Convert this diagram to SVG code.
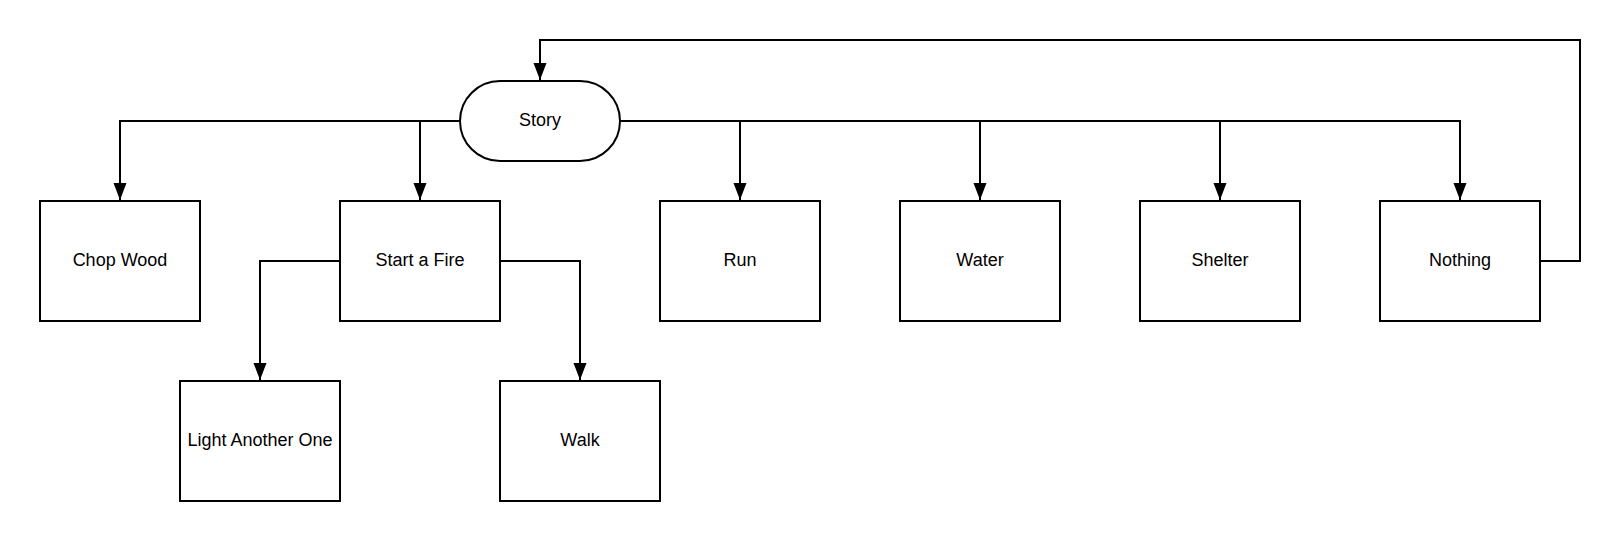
<svg xmlns="http://www.w3.org/2000/svg" width="1620" height="541" viewBox="0 0 1620 541">
<style>
.box{fill:#fff;stroke:#000;stroke-width:2}
.lbl{font-family:"Liberation Sans",Arial,sans-serif;font-size:18px;fill:#000;text-anchor:middle}
.con{fill:none;stroke:#000;stroke-width:2}
</style>
<defs>
<marker id="arrv" markerWidth="18" markerHeight="14" refX="17" refY="7" orient="auto" markerUnits="userSpaceOnUse" viewBox="0 0 18 14">
<path d="M0,0.5 L17,7 L0,13.5 Z" fill="#000"/>
</marker>
</defs>
<rect width="1620" height="541" fill="#fff"/>
<g id="connectors">
<path class="con" d="M460,121 H120 V200" marker-end="url(#arrv)"/>
<path class="con" d="M420,121 V200" marker-end="url(#arrv)"/>
<path class="con" d="M620,121 H1460 V200" marker-end="url(#arrv)"/>
<path class="con" d="M740,121 V200" marker-end="url(#arrv)"/>
<path class="con" d="M980,121 V200" marker-end="url(#arrv)"/>
<path class="con" d="M1220,121 V200" marker-end="url(#arrv)"/>
<path class="con" d="M340,261 H260 V380" marker-end="url(#arrv)"/>
<path class="con" d="M500,261 H580 V380" marker-end="url(#arrv)"/>
<path class="con" d="M1540,261 H1580 V40 H540 V80" marker-end="url(#arrv)"/>
</g>
<g id="story">
<rect class="box" x="460" y="81" width="160" height="80" rx="40" ry="40"/>
<text class="lbl" x="540" y="126">Story</text>
</g>
<g id="chop-wood">
<rect class="box" x="40" y="201" width="160" height="120"/>
<text class="lbl" x="120" y="266">Chop Wood</text>
</g>
<g id="start-fire">
<rect class="box" x="340" y="201" width="160" height="120"/>
<text class="lbl" x="420" y="266">Start a Fire</text>
</g>
<g id="run">
<rect class="box" x="660" y="201" width="160" height="120"/>
<text class="lbl" x="740" y="266">Run</text>
</g>
<g id="water">
<rect class="box" x="900" y="201" width="160" height="120"/>
<text class="lbl" x="980" y="266">Water</text>
</g>
<g id="shelter">
<rect class="box" x="1140" y="201" width="160" height="120"/>
<text class="lbl" x="1220" y="266">Shelter</text>
</g>
<g id="nothing">
<rect class="box" x="1380" y="201" width="160" height="120"/>
<text class="lbl" x="1460" y="266">Nothing</text>
</g>
<g id="light-another">
<rect class="box" x="180" y="381" width="160" height="120"/>
<text class="lbl" x="260" y="446">Light Another One</text>
</g>
<g id="walk">
<rect class="box" x="500" y="381" width="160" height="120"/>
<text class="lbl" x="580" y="446">Walk</text>
</g>
</svg>
